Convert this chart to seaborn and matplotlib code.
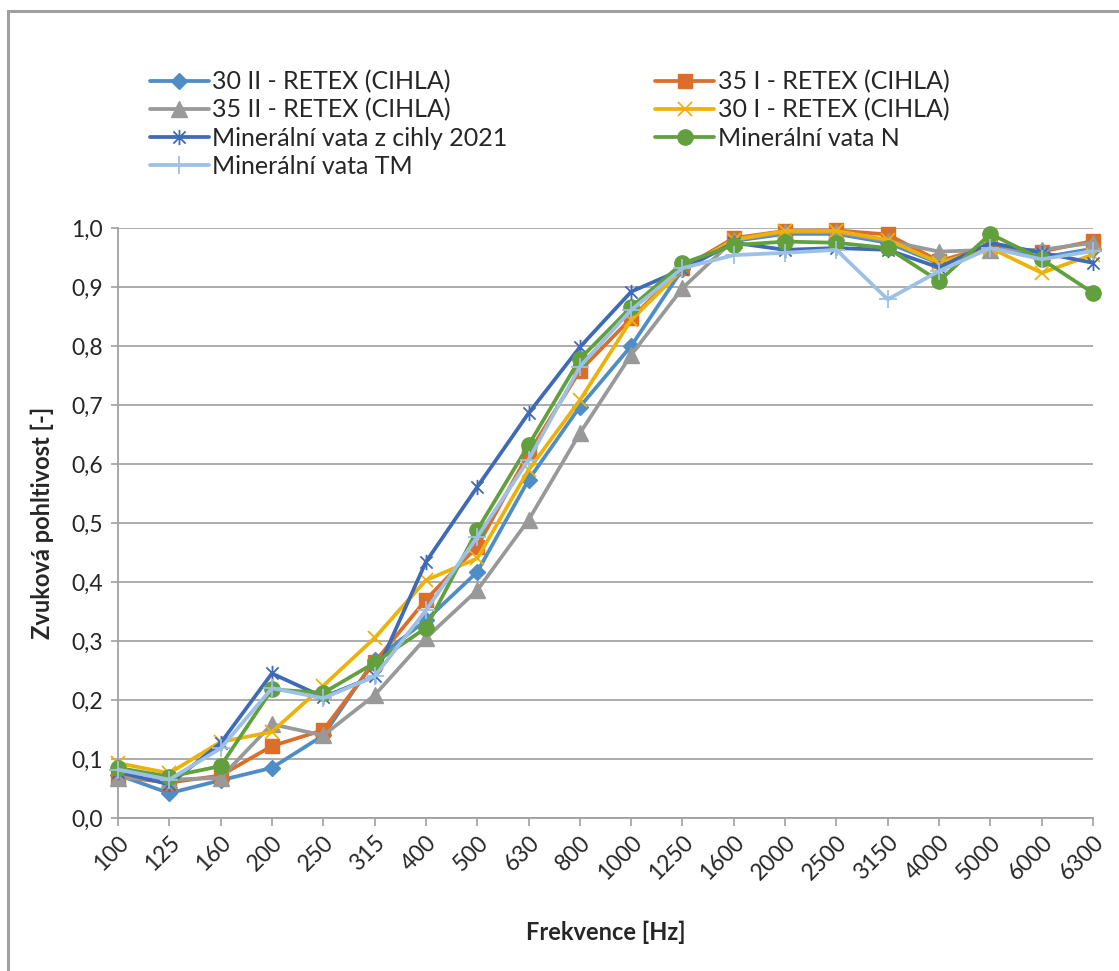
import matplotlib
matplotlib.use("Agg")
import matplotlib.pyplot as plt
import matplotlib.patches as mpatches
from matplotlib.path import Path
import pandas as pd
import seaborn as sns


# ---------------------------------------------------------
# Data
# ---------------------------------------------------------

freqs = ["100", "125", "160", "200", "250", "315", "400", "500", "630", "800",
         "1000", "1250", "1600", "2000", "2500", "3150", "4000", "5000", "6000", "6300"]

s30_II = [0.073, 0.042, 0.064, 0.085, 0.140, 0.268, 0.335, 0.417, 0.573, 0.697,
          0.800, 0.930, 0.978, 0.990, 0.990, 0.975, 0.940, 0.970, 0.950, 0.965]
s35_I = [0.070, 0.060, 0.072, 0.122, 0.149, 0.264, 0.370, 0.460, 0.618, 0.758,
         0.847, 0.932, 0.983, 0.995, 0.996, 0.989, 0.944, 0.969, 0.960, 0.978]
s35_II = [0.068, 0.065, 0.068, 0.159, 0.140, 0.208, 0.305, 0.386, 0.505, 0.652,
          0.785, 0.898, 0.980, 0.993, 0.993, 0.978, 0.960, 0.963, 0.963, 0.975]
s30_I = [0.093, 0.076, 0.129, 0.146, 0.224, 0.305, 0.403, 0.440, 0.590, 0.708,
         0.844, 0.930, 0.980, 0.995, 0.995, 0.980, 0.941, 0.966, 0.924, 0.955]
min_2021 = [0.078, 0.057, 0.127, 0.245, 0.205, 0.240, 0.434, 0.561, 0.686, 0.798,
            0.892, 0.930, 0.975, 0.963, 0.966, 0.963, 0.933, 0.975, 0.958, 0.941]
min_N = [0.085, 0.070, 0.088, 0.218, 0.212, 0.263, 0.322, 0.488, 0.632, 0.778,
         0.866, 0.940, 0.971, 0.977, 0.975, 0.966, 0.910, 0.990, 0.947, 0.890]
min_TM = [0.082, 0.065, 0.118, 0.220, 0.203, 0.240, 0.352, 0.476, 0.607, 0.765,
          0.861, 0.932, 0.954, 0.958, 0.963, 0.879, 0.927, 0.966, 0.947, 0.961]

labels = ["30 II - RETEX (CIHLA)", "35 I - RETEX (CIHLA)", "35 II - RETEX (CIHLA)",
          "30 I - RETEX (CIHLA)", "Minerální vata z cihly 2021", "Minerální vata N",
          "Minerální vata TM"]
series = [s30_II, s35_I, s35_II, s30_I, min_2021, min_N, min_TM]


# ---------------------------------------------------------
# Styles
# ---------------------------------------------------------

# excel like asterisk: an x with a vertical stroke
star_path = Path(
    [(-1, -1), (1, 1), (-1, 1), (1, -1), (0, -1.25), (0, 1.25)],
    [Path.MOVETO, Path.LINETO, Path.MOVETO, Path.LINETO, Path.MOVETO, Path.LINETO]
)

styles = [
    dict(color="#4F8DC6", marker="D", ms=8),
    dict(color="#DC6E2A", marker="s", ms=10),
    dict(color="#999999", marker="^", ms=11),
    dict(color="#EDB20A", marker="x", ms=10, mew=1.3),
    dict(color="#3F6AB7", marker=star_path, ms=11, mew=1.3),
    dict(color="#62A03E", marker="o", ms=11),
    dict(color="#9DC0E6", marker="+", ms=13, mew=1.3),
]

sns.set_theme(style="white")
plt.rcParams["font.family"] = ["Lato", "DejaVu Sans"]

fig = plt.figure(figsize=(11.19, 9.71), dpi=100)
ax = fig.add_axes([118 / 1119, 1 - 818 / 971, 975 / 1119, 590 / 971])

# chart area border (only top and left are visible)
fig.patches.append(mpatches.Rectangle(
    (7.5 / 1119, -0.05), 1.2, 1 - 11 / 971 + 0.05,
    transform=fig.transFigure, fill=False, edgecolor="#A0A0A0", linewidth=2.2
))

positions = list(range(len(freqs)))
handles = []

for lab, vals, st in zip(labels, series, styles):

    df = pd.DataFrame({"pos": positions, "val": vals})

    sns.lineplot(
        data=df,
        x="pos",
        y="val",
        ax=ax,
        color=st["color"],
        linewidth=2.7,
        marker=st["marker"],
        markersize=st["ms"],
        markeredgewidth=st.get("mew", 1.0),
        markeredgecolor=st["color"],
        markerfacecolor=st["color"],
        clip_on=False,
        zorder=3,
    )

    handles.append(ax.lines[-1])

ax.set_xlim(0, len(freqs) - 1)
ax.set_ylim(0, 1.0)

ax.set_xticks(positions)
ax.set_xticklabels(freqs, rotation=45, ha="right", rotation_mode="anchor", fontsize=16.5)

yt = [i / 10 for i in range(11)]
ax.set_yticks(yt)
ax.set_yticklabels([f"{v:.1f}".replace(".", ",") for v in yt], fontsize=16.5)

ax.tick_params(axis="x", length=6, color="#A0A0A0", width=1.2, bottom=True, pad=4)
ax.tick_params(axis="y", length=5, color="#A0A0A0", width=1.2, left=True, pad=6)

ax.grid(axis="y", color="#A6A6A6", linewidth=1.3)
ax.grid(axis="x", visible=False)

for side in ["top", "right"]:
    ax.spines[side].set_visible(False)

for side in ["left", "bottom"]:
    ax.spines[side].set_color("#A0A0A0")
    ax.spines[side].set_linewidth(1.3)

ax.set_xlabel("Frekvence [Hz]", fontsize=17, fontweight="bold", labelpad=26)
ax.set_ylabel("Zvuková pohltivost [-]", fontsize=17, fontweight="bold", labelpad=12)

# legend filled row by row as in the original
order = [0, 2, 4, 6, 1, 3, 5]
leg = fig.legend(
    [handles[i] for i in order],
    [labels[i] for i in order],
    ncol=2,
    loc="upper left",
    bbox_to_anchor=(140 / 1119, 1 - 60 / 971),
    frameon=False,
    fontsize=18,
    handlelength=2.35,
    handletextpad=0.15,
    columnspacing=5.9,
    labelspacing=0.2,
    borderaxespad=0,
)

fig.savefig("out.png", dpi=100)
